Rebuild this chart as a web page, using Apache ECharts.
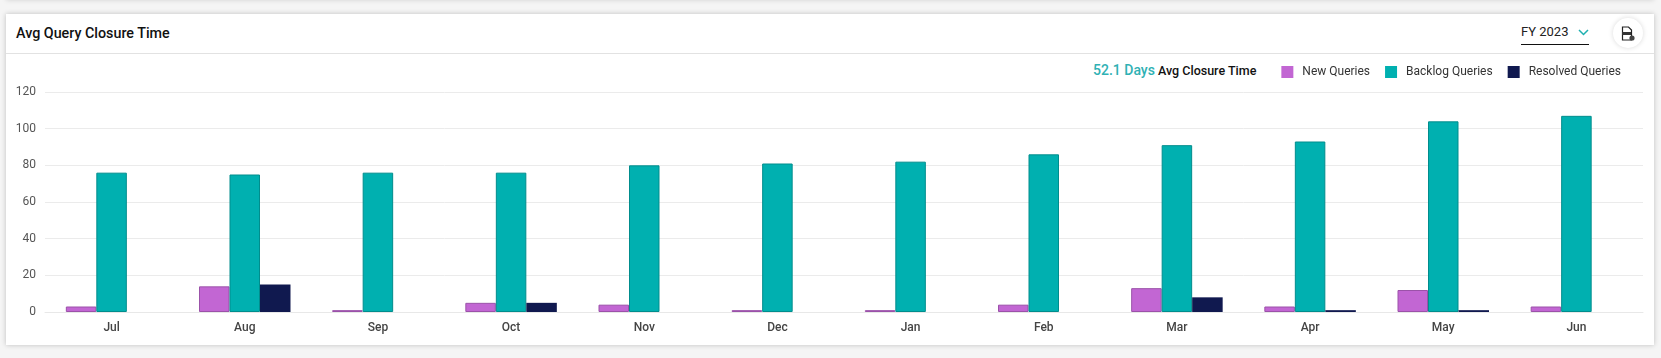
<!DOCTYPE html>
<html>
<head>
<meta charset="utf-8">
<title>Avg Query Closure Time</title>
<script src="https://cdn.jsdelivr.net/npm/echarts@6/dist/echarts.min.js"></script>
<style>
  html, body { margin: 0; padding: 0; width: 1661px; height: 358px; overflow: hidden; background: #f5f5f5; font-family: Roboto, sans-serif; }
  .card { position: absolute; left: 6px; top: 14px; width: 1648px; height: 331px; background: #fff; box-shadow: 0 0 5px rgba(0,0,0,.22); }
  .prev { position: absolute; left: 6px; top: -20px; width: 1648px; height: 20px; background: #f5f5f5; box-shadow: 0 0 5px rgba(0,0,0,.15); }
  .head { position: absolute; left: 6px; top: 53px; width: 1648px; height: 1px; background: #e2e2e2; }
  .title { position: absolute; left: 16px; top: 24px; font-size: 14.3px; line-height: 18px; font-weight: 500; color: #111; }
  .fy { position: absolute; left: 1521px; top: 22px; width: 68px; height: 22px; border-bottom: 1px solid #111; font-size: 13px; line-height: 20px; color: #222; }
  .fy svg { position: absolute; left: 57px; top: 7px; }
  .dl { position: absolute; left: 1613px; top: 18px; width: 30px; height: 30px; border-radius: 50%; background: #fff; box-shadow: 0 0 5px rgba(0,0,0,.15); }
  .dl svg { position: absolute; left: 8px; top: 8px; }
  .avg { position: absolute; left: 1093px; top: 61px; font-size: 12.5px; line-height: 18px; font-weight: 500; color: #111; white-space: nowrap; }
  .avg b { font-size: 14px; font-weight: 500; color: #2fb1b4; }
  #chart { position: absolute; left: 0; top: 0; width: 1661px; height: 358px; }
</style>
</head>
<body>
<div class="prev"></div>
<div class="card"></div>
<div class="head"></div>
<div class="title">Avg Query Closure Time</div>
<div class="fy">FY 2023
  <svg width="11" height="7" viewBox="0 0 11 7"><path d="M1 1l4.5 4.5L10 1" fill="none" stroke="#1fb0b0" stroke-width="1.5"/></svg>
</div>
<div class="dl">
  <svg width="14" height="15" viewBox="0 0 14 15"><path d="M1.5 1h6l3 3v10h-9z" fill="#fff" stroke="#222" stroke-width="1.2"/><rect x="1" y="6" width="9" height="3" fill="#333"/><circle cx="11" cy="12" r="2.6" fill="#444"/></svg>
</div>
<div class="avg"><b>52.1 Days</b> Avg Closure Time</div>
<div id="chart"></div>
<script>
var months = ['Jul', 'Aug', 'Sep', 'Oct', 'Nov', 'Dec', 'Jan', 'Feb', 'Mar', 'Apr', 'May', 'Jun'];
var newQueries = [3, 14, 1, 5, 4, 1, 1, 4, 13, 3, 12, 3];
var backlogQueries = [76, 75, 76, 76, 80, 81, 82, 86, 91, 93, 104, 107];
var resolvedQueries = [0, 15, 0, 5, 0, 0, 0, 0, 8, 1, 1, 0];

var myChart = echarts.init(document.getElementById('chart'));
myChart.setOption({
  animation: false,
  textStyle: { fontFamily: 'Roboto' },
  legend: {
    right: 35,
    top: 61,
    itemWidth: 12,
    itemHeight: 12,
    itemGap: 15,
    icon: 'rect',
    itemStyle: { borderWidth: 0 },
    textStyle: { fontSize: 12, color: '#333', padding: [0, 0, 0, 4] },
    data: ['New Queries', 'Backlog Queries', 'Resolved Queries']
  },
  grid: { left: 45, right: 18, top: 92, bottom: 46 },
  xAxis: {
    type: 'category',
    data: months,
    axisLine: { lineStyle: { color: '#e8e8e8' } },
    axisTick: { length: 5, lineStyle: { color: '#e0e0e0' } },
    axisLabel: { fontSize: 12, fontWeight: 500, color: '#444', margin: 10 }
  },
  yAxis: {
    type: 'value',
    min: 0,
    max: 120,
    interval: 20,
    axisLine: { show: false },
    axisTick: { show: false },
    axisLabel: { fontSize: 12, color: '#555', margin: 9 },
    splitLine: { lineStyle: { color: '#ebebeb' } }
  },
  series: [
    {
      name: 'New Queries',
      type: 'bar',
      barWidth: 30.5,
      barGap: 0,
      data: newQueries,
      itemStyle: { color: '#c266d3', borderColor: '#9b52a9', borderWidth: 1 }
    },
    {
      name: 'Backlog Queries',
      type: 'bar',
      barWidth: 30.5,
      barGap: 0,
      data: backlogQueries,
      itemStyle: { color: '#00b0b0', borderColor: '#008d8d', borderWidth: 1 }
    },
    {
      name: 'Resolved Queries',
      type: 'bar',
      barWidth: 30.5,
      barGap: 0,
      data: resolvedQueries,
      itemStyle: { color: '#10194f' }
    }
  ]
});
</script>
</body>
</html>
